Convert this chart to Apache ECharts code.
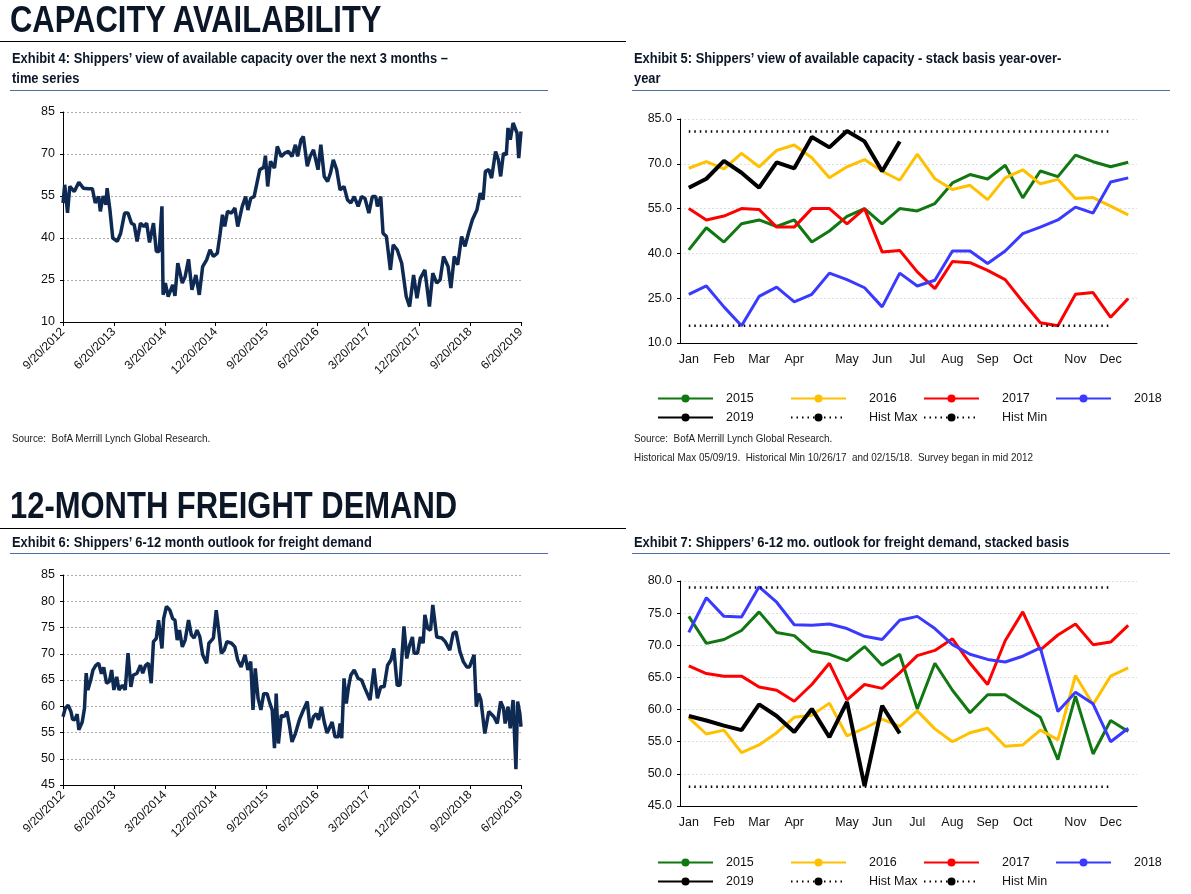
<!DOCTYPE html>
<html lang="en">
<head>
<meta charset="UTF-8" />
<title>Capacity availability / freight demand</title>
<script src="https://cdn.jsdelivr.net/npm/echarts/dist/echarts.min.js"></script>
<style>
  body { margin: 0; background: #fff; font-family: "Liberation Sans", Arial, sans-serif; }
  #page { position: relative; width: 1191px; height: 894px; }
  #chart { position: absolute; left: 0; top: 0; width: 1191px; height: 894px; }
  .t { position: absolute; color: #0b1626; white-space: nowrap; }
  .head { font-size: 36px; font-weight: bold; line-height: 40px; transform: scaleX(0.86); transform-origin: left top; }
  .ex { font-size: 15px; font-weight: bold; line-height: 20px; transform: scaleX(0.86); transform-origin: left top; }
  .src { font-size: 11px; color: #222; line-height: 19px; transform: scaleX(0.9); transform-origin: left top; }
  .rule { position: absolute; height: 0; }
</style>
</head>
<body>
<div id="page">
  <div id="chart"></div>

  <div class="t head" style="left:10px;top:0px">CAPACITY AVAILABILITY</div>
  <div class="rule" style="left:0;top:41px;width:626px;border-top:1.5px solid #000"></div>
  <div class="t ex" style="left:12px;top:48px">Exhibit 4: Shippers’ view of available capacity over the next 3 months –<br>time series</div>
  <div class="rule" style="left:10px;top:90px;width:538px;border-top:1px solid #4a6ea8"></div>
  <div class="t ex" style="left:634px;top:48px">Exhibit 5: Shippers’ view of available capacity - stack basis year-over-<br>year</div>
  <div class="rule" style="left:632px;top:90px;width:538px;border-top:1px solid #4a6ea8"></div>
  <div class="t src" style="left:12px;top:429px">Source:&nbsp; BofA Merrill Lynch Global Research.</div>
  <div class="t src" style="left:634px;top:429px">Source:&nbsp; BofA Merrill Lynch Global Research.<br>Historical Max 05/09/19.&nbsp; Historical Min 10/26/17&nbsp; and 02/15/18.&nbsp; Survey began in mid 2012</div>

  <div class="t head" style="left:10px;top:486px">12-MONTH FREIGHT DEMAND</div>
  <div class="rule" style="left:0;top:528px;width:626px;border-top:1.5px solid #000"></div>
  <div class="t ex" style="left:12px;top:532px">Exhibit 6: Shippers’ 6-12 month outlook for freight demand</div>
  <div class="rule" style="left:10px;top:553px;width:538px;border-top:1px solid #4a6ea8"></div>
  <div class="t ex" style="left:634px;top:532px">Exhibit 7: Shippers’ 6-12 mo. outlook for freight demand, stacked basis</div>
  <div class="rule" style="left:632px;top:553px;width:538px;border-top:1px solid #4a6ea8"></div>
</div>

<script>
  // date tick labels, one every 9 months from 9/20/2012
  var dateTicks = ["9/20/2012", "6/20/2013", "3/20/2014", "12/20/2014", "9/20/2015",
    "6/20/2016", "3/20/2017", "12/20/2017", "9/20/2018", "6/20/2019"];

  // Exhibit 4: [months since 9/20/2012, value]
  var capacitySeries = [
    [0,52.5],[0.3,59],[0.8,49],[1.2,58.4],[2.0,56.6],[2.8,59.9],[3.6,57.8],[4.5,57.6],[5.2,57.6],[5.7,52.5],
    [6.3,54.8],[6.6,49.5],[7.1,55],[7.6,51.9],[7.8,57.8],[8.3,50],[8.8,40],[9.6,38.8],[10.2,41.7],[10.9,48.9],
    [11.5,48.9],[12.1,45.3],[12.6,44.7],[13.1,38.8],[13.7,45.3],[14.3,44.1],[14.8,45.3],[15.3,38.4],[16.0,45.3],[16.5,35.2],
    [17.0,35.2],[17.5,51.3],[17.7,19.7],[18.1,23.9],[18.6,19.1],[19.4,23.3],[19.8,19.3],[20.3,31],[21.1,23.9],[21.6,26.2],
    [22.2,32.4],[22.8,21.5],[23.5,26.8],[24.1,19.7],[24.7,29.8],[25.4,32.2],[26.0,35.8],[26.6,33.4],[27.3,34.6],[27.8,41.7],
    [28.2,48.3],[28.6,44.1],[29.1,49.5],[29.8,48.9],[30.4,50.7],[30.9,44.1],[31.7,51.3],[32.3,54.8],[32.7,50],[33.2,54.2],
    [33.8,54.8],[34.3,59.6],[34.8,64.4],[35.5,65.3],[35.8,69.4],[36.2,58.4],[36.7,67.4],[37.4,65],[37.9,72.7],[38.6,69.1],
    [39.2,70.3],[39.9,70.9],[40.5,69.1],[41.1,73.3],[41.5,69.1],[42.1,75.1],[42.5,76.3],[43.2,65.6],[43.7,69.1],[44.3,71.5],
    [45.1,64.4],[45.6,73.3],[46.2,62],[46.8,60.2],[47.3,63.2],[47.8,67.9],[48.4,64.4],[49.0,57.2],[49.7,58.4],[50.3,53.7],
    [50.9,52.5],[51.5,54.8],[52.2,51.3],[52.8,54.8],[53.4,54.2],[54.1,48.9],[54.7,54.8],[55.3,54.8],[55.6,51.3],[56.2,54.8],
    [56.6,41.7],[57.2,40.5],[57.9,28.6],[58.4,37.6],[59.1,35.8],[59.9,31],[60.7,19.1],[61.3,15.5],[62.0,26.8],[62.6,18.5],
    [63.2,25.6],[64.0,28.6],[64.8,15.5],[65.4,27.4],[66.1,23.9],[66.7,25.1],[67.3,33.4],[68.1,29.8],[68.6,22.1],[69.2,33.4],
    [69.8,30.4],[70.5,40.5],[71.1,37],[71.7,41.7],[72.4,46.5],[73.2,50],[73.8,56],[74.3,53.7],[74.7,63.8],[75.3,64.4],
    [75.8,61.4],[76.5,70.9],[77.0,67.9],[77.4,62],[77.9,70.3],[78.4,69.7],[78.7,79.3],[79.1,75.1],[79.6,81.1],[80.3,77.5],
    [80.6,68.5],[81,78.1]
  ];

  // Exhibit 6: [months since 9/20/2012, value]
  var demandSeries = [
    [0,58],[0.4,59.6],[0.9,60.2],[1.4,59],[1.7,57.5],[2.1,57.4],[2.5,58.5],[2.8,55.5],[3.4,57],[3.8,59.6],
    [4.1,66.3],[4.4,63.1],[4.9,65],[5.3,66.9],[5.8,67.8],[6.3,68.2],[6.8,66.2],[7.2,67.4],[7.7,64.4],[8.2,64.7],
    [8.6,66.9],[9.0,63.1],[9.5,65.6],[9.9,63.1],[10.5,64],[11.0,63.1],[11.5,70.1],[12.0,63.7],[12.4,65.9],[13.1,66.3],
    [13.7,67.8],[14.1,66.3],[14.6,67.8],[15.1,68.2],[15.6,64.4],[16.0,72.3],[16.5,72.9],[16.9,76.4],[17.5,71],[17.8,76.7],
    [18.3,79],[18.9,78.3],[19.4,76.7],[19.8,76.4],[20.2,72.6],[20.6,74.5],[21.1,71.3],[21.6,72.6],[22.2,76.4],[22.7,73.6],
    [23.2,73],[23.7,74.5],[24.2,73.2],[24.7,69.8],[25.4,68.2],[25.8,72],[26.3,72.6],[26.6,73],[27.1,78.3],[27.6,73.9],
    [28.0,70.1],[28.5,70.7],[29.0,72.3],[29.8,72],[30.4,71.3],[30.9,68.8],[31.5,67.5],[32.2,69.8],[32.7,66.9],[33.2,68.5],
    [33.6,59.3],[34.0,67.2],[34.5,61.5],[35.0,59.3],[35.5,62.4],[36.1,62.4],[36.6,60.5],[37.0,59.3],[37.4,52],[37.7,62.4],
    [38.1,52.9],[38.6,58.3],[39.1,58],[39.6,59],[40.0,56.7],[40.5,53.2],[41.1,54.8],[41.8,57.4],[42.4,59],[43.2,60.9],
    [43.7,55.8],[44.3,58],[44.8,58.6],[45.2,57.4],[45.7,59.9],[46.2,57],[46.7,54.9],[47.1,55.8],[47.6,57],[48.1,54.2],
    [48.7,54.2],[49.0,56.7],[49.3,53.9],[49.7,65.3],[50.1,60.5],[50.5,63.7],[50.9,65.9],[51.5,66.9],[52.2,65.3],[52.8,65],
    [53.4,63.4],[54.3,61.2],[55.0,67.2],[55.6,61.5],[56.2,63.7],[56.8,63.7],[57.4,67.8],[58.0,68.8],[58.5,71],[59.1,64],
    [59.6,64],[60.3,75.2],[60.8,69.1],[61.3,71.6],[61.8,73.2],[62.1,70.1],[62.7,70.1],[63.2,73.2],[63.7,72],[64.0,77.4],
    [64.5,74.8],[65.0,74.5],[65.4,79.3],[66.1,73.2],[67.0,73],[67.6,72.3],[68.4,70.7],[69.0,73.9],[69.5,74.2],[70.2,70.4],
    [70.8,68.5],[71.4,67.5],[71.9,67.5],[72.7,69.8],[73.1,59.9],[73.5,62.4],[73.9,61.2],[74.6,54.8],[75.3,59],[76.2,58],
    [76.8,56.7],[77.4,60.9],[77.9,59.6],[78.2,56.7],[78.7,59.9],[79.1,55.8],[79.6,61.2],[80.1,48],[80.4,60.9],[80.8,58.6],
    [81,56.1]
  ];

  // stacked charts: 26 periods per year
  var periods = ["Jan", "", "Feb", "", "Mar", "", "Apr", "", "", "May", "", "Jun", "", "Jul", "", "Aug", "",
    "Sep", "", "Oct", "", "", "Nov", "", "Dec", ""];

  // Exhibit 5
  var cap2015 = [41.2,48.6,43.8,49.9,51.2,49,51.2,43.8,47.5,52.4,55,49.9,55,54.2,56.7,63.6,66.4,64.9,69.5,58.6,67.6,65.7,72.9,70.7,69,70.5];
  var cap2016 = [68.5,70.7,68.3,73.5,69,74.5,76.3,72,65.3,69,71.4,67.5,64.5,73.2,65,61.4,62.8,58,65.3,68,63.3,64.8,58.4,58.7,55.8,52.9];
  var cap2017 = [55,51.2,52.5,55,54.7,48.8,48.8,55,55,49.9,55,40.5,41,33.8,28.2,37.3,36.9,34.3,31.2,23.8,16.8,15.8,26.3,26.9,18.6,24.9];
  var cap2018 = [26.3,29.1,22.1,15.8,25.6,28.7,23.8,26.3,33.4,31.2,28.5,22.1,33.4,29.1,31,40.8,40.8,36.6,40.8,46.6,48.8,51.2,55.5,53.5,63.9,65.3];
  var cap2019 = [62,65,71,67,62,70.5,68.5,79,75.5,81,77.5,67.5,77.5];
  var capHistMax = 80.8;
  var capHistMin = 15.8;

  // Exhibit 7
  var dem2015 = [74.5,70.3,70.9,72.3,75.2,72,71.5,69.1,68.6,67.6,69.8,66.9,68.6,60.1,67.2,63,59.5,62.3,62.3,60.5,58.8,52.2,62.1,53.1,58.3,56.6];
  var dem2016 = [58.7,56.2,56.8,53.3,54.5,56.4,58.8,59.1,61,55.9,57.1,58.5,57.4,59.8,57,55,56.4,57.1,54.3,54.5,56.8,55.3,65.3,60.8,65.2,66.5];
  var dem2017 = [66.8,65.6,65.2,65.2,63.5,63,61.3,63.9,67.2,61.5,63.9,63.3,65.7,68.4,69.2,71,67.2,63.9,70.7,75.2,69.3,71.6,73.3,70.1,70.5,73.1];
  var dem2018 = [72,77.4,74.5,74.4,79.1,76.7,73.2,73.1,73.3,72.6,71.4,70.9,73.9,74.5,72.6,70.1,68.6,67.8,67.4,68.3,69.6,59.7,62.7,60.9,55,57.1];
  var dem2019 = [59,58.3,57.5,56.8,60.8,59,56.5,60.1,55.7,61.2,48.1,60.6,56.3];
  var demHistMax = 79.0;
  var demHistMin = 48.0;

  var legendNames = ["2015", "2016", "2017", "2018", "2019", "Hist Max", "Hist Min"];

  var FONT = "Liberation Sans";
  var colors = { y2015: "#117711", y2016: "#ffc000", y2017: "#ff0000", y2018: "#3a3aff", y2019: "#000000" };

  function flat(v) {
    // constant reference line across the first 25 periods
    return periods.slice(0, 25).map(function () { return v; });
  }

  function timeAxes(idx, min, max, step) {
    return {
      x: {
        type: "value", gridIndex: idx, min: 0, max: 81, interval: 9,
        axisLine: { lineStyle: { color: "#000" } },
        axisTick: { lineStyle: { color: "#000" }, length: 4 },
        splitLine: { show: false },
        axisLabel: {
          rotate: 45, fontSize: 12, fontFamily: FONT, color: "#111", margin: 8,
          formatter: function (v) { return dateTicks[Math.round(v / 9)]; }
        }
      },
      y: {
        type: "value", gridIndex: idx, min: min, max: max, interval: step,
        axisLine: { show: true, lineStyle: { color: "#000" } },
        axisTick: { show: true, length: 3, lineStyle: { color: "#000" } },
        splitLine: { lineStyle: { color: "#aaa", type: [2, 2] } },
        axisLabel: { fontSize: 12.5, fontFamily: FONT, color: "#111" }
      }
    };
  }

  function stackAxes(idx, min, max, step) {
    return {
      x: {
        type: "category", gridIndex: idx, data: periods, boundaryGap: true,
        axisLine: { lineStyle: { color: "#000" } },
        axisTick: { interval: 0, length: 4, lineStyle: { color: "#000" } },
        axisLabel: { interval: 0, fontSize: 12.5, fontFamily: FONT, color: "#111", margin: 10 }
      },
      y: {
        type: "value", gridIndex: idx, min: min, max: max, interval: step,
        axisLine: { show: true, lineStyle: { color: "#000" } },
        axisTick: { show: true, length: 3, lineStyle: { color: "#000" } },
        splitLine: { lineStyle: { color: "#ddd", type: [2, 2] } },
        axisLabel: { fontSize: 12.5, fontFamily: FONT, color: "#111", formatter: function (v) { return v.toFixed(1); } }
      }
    };
  }

  var a4 = timeAxes(0, 10, 85, 15);
  var a5 = stackAxes(1, 10, 85, 15);
  var a6 = timeAxes(2, 45, 85, 5);
  var a7 = stackAxes(3, 45, 80, 5);

  function lineS(name, data, ax, color, width, dotted) {
    return {
      name: name, type: "line", data: data, xAxisIndex: ax, yAxisIndex: ax,
      symbol: "none", smooth: false, animation: false,
      lineStyle: { color: color, width: width, type: dotted ? [1.5, 4] : "solid" },
      itemStyle: { color: color }
    };
  }

  // one legend component per entry, laid out in a 4-column grid
  function legends(top) {
    var cols = [652, 785, 918, 1050];
    return legendNames.map(function (n, i) {
      return {
        data: [n], left: cols[i % 4], top: top + Math.floor(i / 4) * 19,
        itemWidth: 55, itemHeight: 10, selectedMode: false,
        textStyle: { fontFamily: FONT, fontSize: 12.5, color: "#111", padding: [0, 0, 0, i === 0 || i === 4 ? 8 : 18] }
      };
    });
  }

  function stackSeries(ax, s15, s16, s17, s18, s19, hmax, hmin) {
    return [
      lineS("2015", s15, ax, colors.y2015, 3),
      lineS("2016", s16, ax, colors.y2016, 3),
      lineS("2017", s17, ax, colors.y2017, 3),
      lineS("2018", s18, ax, colors.y2018, 3),
      lineS("2019", s19, ax, colors.y2019, 4),
      lineS("Hist Max", flat(hmax), ax, "#000", 2.5, true),
      lineS("Hist Min", flat(hmin), ax, "#000", 2.5, true)
    ];
  }

  var chart = echarts.init(document.getElementById("chart"));
  var option = {
    animation: false,
    grid: [
      { left: 63, top: 112, width: 458, height: 210 },
      { left: 680, top: 119, width: 457, height: 224 },
      { left: 63, top: 575, width: 458, height: 210 },
      { left: 680, top: 581, width: 457, height: 225 }
    ],
    xAxis: [a4.x, a5.x, a6.x, a7.x],
    yAxis: [a4.y, a5.y, a6.y, a7.y],
    legend: legends(387).concat(legends(851)),
    series: [
      lineS("capacity", capacitySeries, 0, "#0e2a52", 3.5),
      lineS("demand", demandSeries, 2, "#0e2a52", 3.5)
    ]
      .concat(stackSeries(1, cap2015, cap2016, cap2017, cap2018, cap2019, capHistMax, capHistMin))
      .concat(stackSeries(3, dem2015, dem2016, dem2017, dem2018, dem2019, demHistMax, demHistMin))
  };
  chart.setOption(option);
</script>
</body>
</html>
